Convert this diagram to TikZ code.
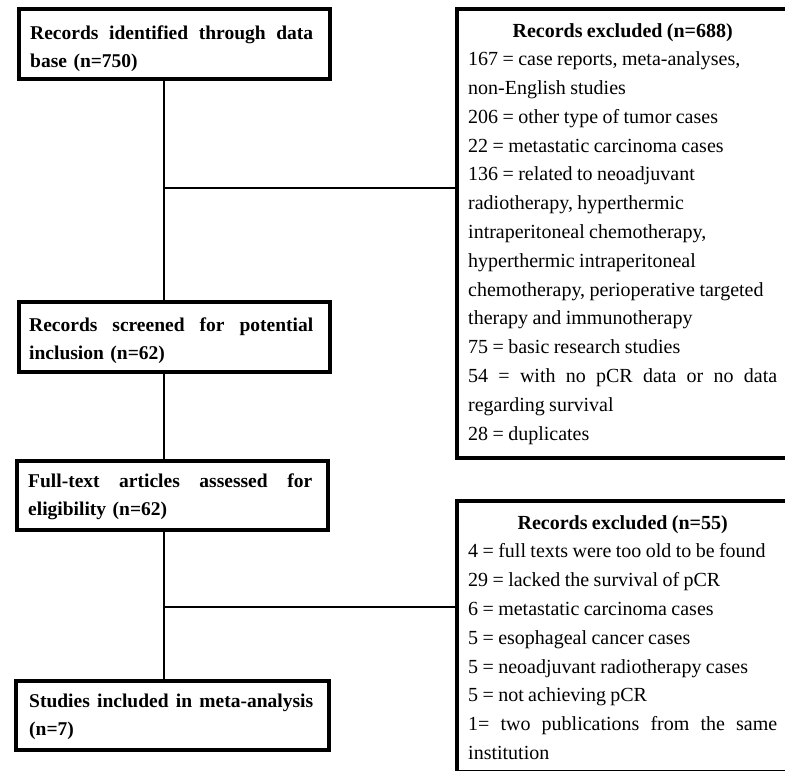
\documentclass[tikz,border=0pt]{standalone}
\usepackage{fontspec}
\setmainfont{Liberation Serif}
% justified line of a given width: spaces stretch equally
\newcommand{\jl}[2]{\leavevmode\hbox to #1{\spaceskip=0.25em plus 1fill\relax #2}}
\newcommand{\ctrline}[2]{\leavevmode\hbox to #1{\hfil #2\hfil}}
\newcommand{\tightsp}{\spaceskip=0.22em plus 0.1em minus 0.05em\relax}
\begin{document}
\begin{tikzpicture}[x=1pt,y=-1pt,
  box/.style={draw, line width=3.6pt, rectangle, anchor=north west, inner sep=0pt},
  link/.style={draw, line width=1.3pt},
  ltext/.style={anchor=base west, inner sep=0pt, text width=300pt, align=left,
    font=\fontsize{19.5}{28.5}\selectfont\bfseries},
  rtext/.style={anchor=base west, inner sep=0pt, text width=330pt, align=left,
    font=\fontsize{20}{28.8}\selectfont}]
\useasboundingbox (0,0) rectangle (785,771);
\clip (0,0) rectangle (785,771);
\fill[white] (0,0) rectangle (785,771);

% left boxes
\node[box, minimum width=311pt, minimum height=70pt] (b1) at (17,7) {};
\node[box, minimum width=311pt, minimum height=70pt] (b2) at (17,300) {};
\node[box, minimum width=311pt, minimum height=69pt] (b3) at (15,459) {};
\node[box, minimum width=313pt, minimum height=69pt] (b4) at (14,679) {};

% right boxes
\node[box, minimum width=340pt, minimum height=449pt] (r1) at (455,7) {};
\node[box, minimum width=340pt, minimum height=271pt] (r2) at (455,499) {};

% texts
\node[ltext] (t1) at (30,39) {\jl{283pt}{Records identified through data}\\base (n=750)};
\node[ltext] (t2) at (29,331) {\jl{284pt}{Records screened for potential}\\inclusion (n=62)};
\node[ltext] (t3) at (28,487) {\jl{284pt}{Full-text articles assessed for}\\eligibility (n=62)};
\node[ltext] (t4) at (29,707) {\jl{284pt}{Studies included in meta-analysis}\\(n=7)};

\node[rtext] (rt1) at (468,37) {\tightsp\ctrline{309pt}{\textbf{Records excluded (n=688)}}\\
167 = case reports, meta-analyses,\\
non-English studies\\
206 = other type of tumor cases\\
22 = metastatic carcinoma cases\\
136 = related to neoadjuvant\\
radiotherapy, hyperthermic\\
intraperitoneal chemotherapy,\\
hyperthermic intraperitoneal\\
chemotherapy, perioperative targeted\\
therapy and immunotherapy\\
75 = basic research studies\\
\jl{309pt}{54 = with no pCR data or no data}\\
regarding survival\\
28 = duplicates};

\node[rtext] (rt2) at (468,529) {\tightsp\ctrline{309pt}{\textbf{Records excluded (n=55)}}\\
4 = full texts were too old to be found\\
29 = lacked the survival of pCR\\
6 = metastatic carcinoma cases\\
5 = esophageal cancer cases\\
5 = neoadjuvant radiotherapy cases\\
5 = not achieving pCR\\
\jl{309pt}{1= two publications from the same}\\
institution};

% connectors
\coordinate (j1) at (164,188);
\coordinate (j2) at (164,607);
\draw[link] (b1.south -| j1) -- (b2.north -| j1);
\draw[link] (b2.south -| j1) -- (b3.north -| j1);
\draw[link] (b3.south -| j1) -- (b4.north -| j1);
\draw[link] (j1) -- (j1 -| r1.west);
\draw[link] (j2) -- (j2 -| r2.west);
\end{tikzpicture}
\end{document}
